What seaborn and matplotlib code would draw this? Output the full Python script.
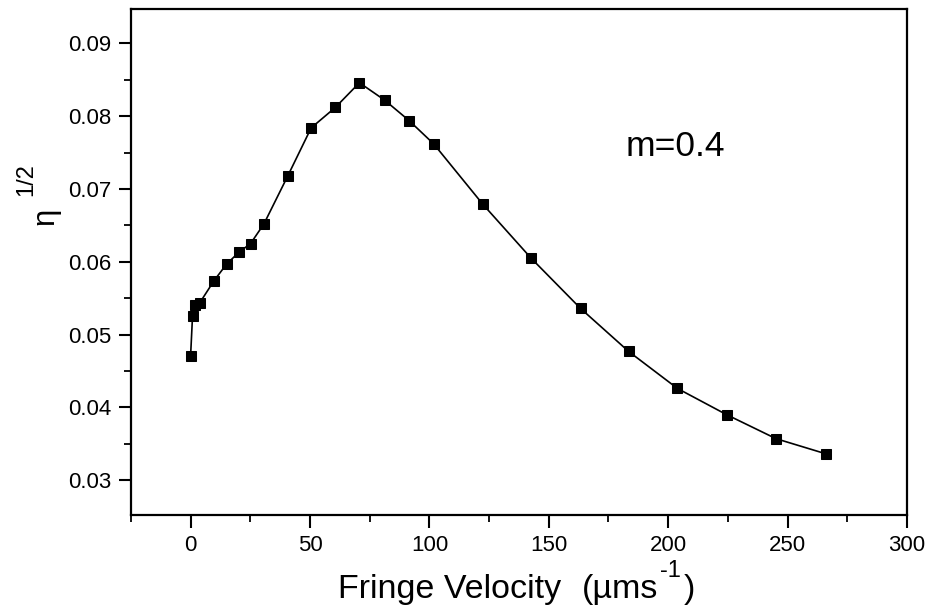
import matplotlib
matplotlib.use("Agg")
import matplotlib.pyplot as plt
import seaborn as sns
import pandas as pd
from matplotlib.ticker import MultipleLocator

velocity = [0, 0.8, 1.8, 3.9, 9.8, 15.1, 20.2, 25.1, 30.7, 40.7, 50.5, 60.6, 70.7,
            81.3, 91.5, 101.8, 122.4, 142.6, 163.3, 183.4, 203.9, 224.5, 245.2, 266.3]
eta_half = [0.0471, 0.0525, 0.0540, 0.0544, 0.0574, 0.0597, 0.0613, 0.0625, 0.0652,
            0.0718, 0.0784, 0.0812, 0.0846, 0.0822, 0.0794, 0.0762, 0.0679, 0.0605,
            0.0536, 0.0477, 0.0426, 0.0390, 0.0357, 0.0336]
x_ticks = [0, 50, 100, 150, 200, 250, 300]
y_ticks = [0.03, 0.04, 0.05, 0.06, 0.07, 0.08, 0.09]

df = pd.DataFrame({"v": velocity, "eta": eta_half})

sns.set_style("ticks")
plt.rcParams["font.family"] = ["Liberation Sans", "DejaVu Sans"]
plt.rcParams["text.color"] = "black"
plt.rcParams["axes.labelcolor"] = "black"
plt.rcParams["xtick.color"] = "black"
plt.rcParams["ytick.color"] = "black"
plt.rcParams["axes.edgecolor"] = "black"

W, H = 935, 614
fig = plt.figure(figsize=(W / 100, H / 100), dpi=100)
ax = fig.add_axes([0.140, 0.161, 0.830, 0.824])

sns.lineplot(data=df, x="v", y="eta", ax=ax, color="black", linewidth=1.2,
             marker="s", markersize=7, markeredgecolor="black",
             markerfacecolor="black", sort=False)

ax.set_xlim(-25, 300)
ax.set_ylim(0.0252, 0.0947)
ax.set_xticks(x_ticks)
ax.set_yticks(y_ticks)
ax.set_xticklabels([str(t) for t in x_ticks])
ax.set_yticklabels([f"{t:.2f}" for t in y_ticks])
ax.xaxis.set_minor_locator(MultipleLocator(25))
ax.yaxis.set_minor_locator(MultipleLocator(0.005))
ax.tick_params(which="major", direction="out", length=9, width=1.5, labelsize=16,
               pad=5, top=False, right=False, colors="black")
ax.tick_params(which="minor", direction="out", length=5, width=1.3,
               top=False, right=False, colors="black")
for s in ax.spines.values():
    s.set_linewidth(1.6)
    s.set_color("black")
    s.set_visible(True)

ax.set_xlabel("")
ax.set_ylabel("")

# x-axis title: "Fringe Velocity (μms⁻¹)" composed of pieces
renderer = fig.canvas.get_renderer()
fig.text(338 / W, (H - 598) / H, "Fringe Velocity", fontsize=24.5,
         ha="left", va="baseline")
t1 = fig.text(582 / W, (H - 598) / H, "(\u00b5ms", fontsize=24.5,
              ha="left", va="baseline")
x1 = t1.get_window_extent(renderer).x1
t2 = fig.text((x1 + 2) / W, (H - 577) / H, "-1", fontsize=17,
              ha="left", va="baseline")
x2 = t2.get_window_extent(renderer).x1
fig.text((x2 + 3) / W, (H - 598) / H, ")", fontsize=24.5, ha="left", va="baseline")

# y-axis title: η^(1/2), rotated
fig.text(53.5 / W, (H - 216) / H, "\u03b7", fontsize=22.5, rotation=90,
         rotation_mode="anchor", ha="center", va="baseline")
fig.text(32 / W, (H - 180) / H, "1/2", fontsize=17, rotation=90,
         rotation_mode="anchor", ha="center", va="baseline")

ax.text(0.701, 0.729, "m=0.4", transform=ax.transAxes, fontsize=25.5,
        ha="center", va="center")

fig.savefig("out.png", dpi=100)
